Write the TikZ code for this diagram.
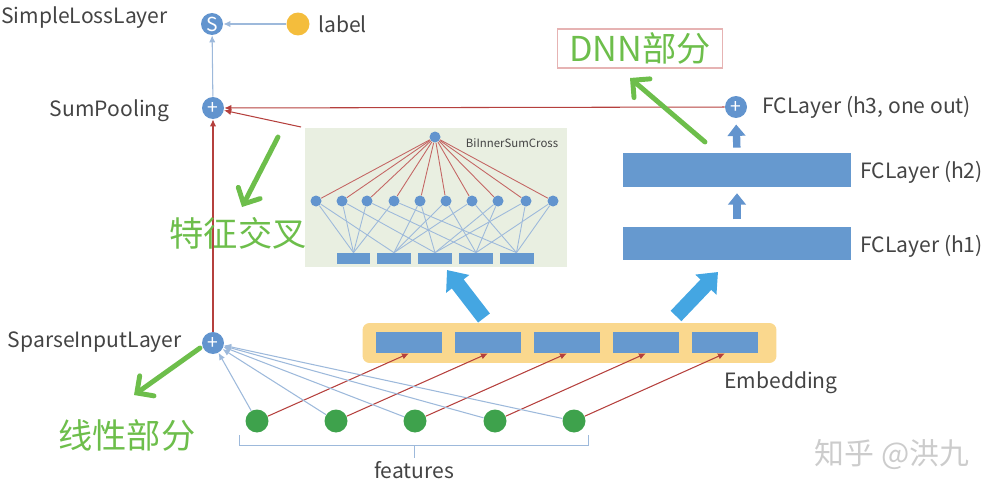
\documentclass[tikz,border=0pt]{standalone}
\usepackage{fontspec}
\setmainfont{Noto Sans CJK SC}
\usetikzlibrary{arrows.meta,calc}
\definecolor{nodeblue}{HTML}{6294CE}
\definecolor{rectblue}{HTML}{6699CF}
\definecolor{thinblue}{HTML}{9DB9DB}
\definecolor{redline}{HTML}{B5403D}
\definecolor{fgreen}{HTML}{3EA24C}
\definecolor{annot}{HTML}{6DBE4B}
\definecolor{ylw}{HTML}{F4BD3C}
\definecolor{embfill}{HTML}{FAD88E}
\definecolor{bigarrow}{HTML}{44A6E2}
\definecolor{bibg}{HTML}{E9EFE1}
\definecolor{txt}{HTML}{444444}
\definecolor{dnnframe}{HTML}{E6B3B3}
\begin{document}
\begin{tikzpicture}[x=0.02cm,y=-0.02cm,
  lbl/.style={font=\fontsize{12}{14}\selectfont, text=txt, inner sep=0},
  cjk/.style={font=\fontsize{19.5}{22}\selectfont, text=annot, inner sep=0},
  opnode/.style={circle, fill=nodeblue, minimum size=0.44cm, inner sep=0, text=white, font=\fontsize{11}{11}\selectfont},
  smallop/.style={circle, fill=nodeblue, minimum size=0.22cm, inner sep=0},
  birect/.style={fill=rectblue, minimum width=0.68cm, minimum height=0.22cm, inner sep=0},
  embrect/.style={fill=rectblue, minimum width=1.32cm, minimum height=0.42cm, inner sep=0},
  fcrect/.style={fill=rectblue, minimum width=4.56cm, minimum height=0.67cm, inner sep=0},
  feat/.style={circle, fill=fgreen, minimum size=0.46cm, inner sep=0},
  redarrow/.style={draw=redline, line width=0.6pt, -{Latex[length=4pt,width=3.6pt]}},
  bluearrow/.style={draw=thinblue, line width=0.6pt, -{Latex[length=4pt,width=3.6pt]}},
  thinline/.style={draw=thinblue, line width=0.5pt},
  thinred/.style={draw=redline!80, line width=0.5pt},
  thickarrow/.style={draw=nodeblue, line width=4.2pt, -{Triangle[length=6.5pt,width=10pt]}},
  bigblue/.style={draw=bigarrow, line width=8.5pt, -{Triangle[length=10pt,width=16pt]}},
  annarrow/.style={draw=annot, line width=2.8pt, line cap=round, -{Straight Barb[length=7pt,width=14pt,line cap=round]}}
]
\useasboundingbox (0,0) rectangle (998,490);

% ---------------- top part ----------------
\node[opnode] (S) at (212,24) {S};
\node[circle, fill=ylw, minimum size=0.46cm, inner sep=0] (lab) at (298,24) {};
\node[lbl, anchor=base west] (labtxt) at (318,32) {label};
\node[lbl, anchor=base east] (slt) at (168,24) {SimpleLossLayer};

\node[opnode] (sum) at (213,108) {+};
\node[lbl, anchor=base east] (sumtxt) at (170,116) {SumPooling};

\node[opnode] (sparse) at (213,343) {+};
\node[lbl, anchor=base east] (sparsetxt) at (182,347) {SparseInputLayer};

% ---------------- BiInnerSumCross ----------------
\node[fill=bibg, inner sep=0, minimum width=5.24cm, minimum height=2.78cm, anchor=north west] (bi) at (305,128) {};
\node[font=\fontsize{6.5}{8}\selectfont, text=txt, inner sep=0] (bititle) at (512,143) {BiInnerSumCross};
\node[smallop] (top) at (435,137) {};
\foreach \i/\x in {1/316,2/342,3/367,4/394,5/420,6/446,7/472,8/498,9/526,10/553}
  \node[smallop] (c\i) at (\x,201) {};
\foreach \j/\x in {1/353.5,2/394,3/435,4/476,5/516.5}
  \node[birect] (r\j) at (\x,258.5) {};
\foreach \i/\a/\b in {1/1/2,2/1/3,3/1/4,4/1/5,5/2/3,6/2/4,7/2/5,8/3/4,9/3/5,10/4/5}{
  \draw[thinline] (c\i) -- (r\a.north);
  \draw[thinline] (c\i) -- (r\b.north);
  \draw[thinred] (top) -- (c\i);
}

% ---------------- DNN part ----------------
\node[opnode] (h3) at (736,107) {+};
\node[lbl, anchor=base west] (h3txt) at (762,113) {FCLayer (h3, one out)};
\node[fcrect] (h2) at (737,170) {};
\node[lbl, anchor=base west] (h2txt) at (860,178) {FCLayer (h2)};
\node[fcrect] (h1) at (737,243.5) {};
\node[lbl, anchor=base west] (h1txt) at (860,252) {FCLayer (h1)};
\draw[thickarrow, shorten <=4pt, shorten >=3.5pt] (h1.north) -- (h2.south);
\draw[thickarrow, shorten <=3pt, shorten >=3.5pt] (h2.north) -- (h3.south);

\node[draw=dnnframe, line width=0.6pt, minimum width=3.3cm, minimum height=0.78cm, cjk, inner sep=0] (dnn) at (640,48.5) {DNN部分};

% ---------------- Embedding ----------------
\node[fill=embfill, rounded corners=4pt, minimum width=8.28cm, minimum height=0.8cm, inner sep=0] (emb) at (569.5,343) {};
\foreach \i/\x in {1/409,2/488,3/567,4/646,5/725}
  \node[embrect] (e\i) at (\x,342.5) {};
\node[lbl, anchor=base west] (embtxt) at (724,388) {Embedding};

% ---------------- features ----------------
\foreach \i/\x in {1/257,2/336,3/415,4/495,5/574}
  \node[feat] (f\i) at (\x,421) {};
\foreach \i in {1,...,5}{
  \draw[bluearrow] (f\i) -- (sparse);
  \draw[redarrow] (f\i) -- (e\i.south);
}
\coordinate (brl) at (239,435);
\coordinate (brr) at (588,435);
\coordinate (brm) at (414,458);
\draw[thinline] (brl) -- ++(0,10) -- ($(brr)+(0,10)$) -- (brr);
\draw[thinline] ($(brm)+(0,-13)$) -- (brm);
\node[lbl, anchor=base] (feattxt) at (414,478) {features};

% ---------------- main connectors ----------------
\draw[bluearrow] (lab) -- (S);
\draw[bluearrow] (sum) -- (S);
\draw[redarrow] (sparse) -- (sum);
\draw[redarrow] (h3) -- (sum);
\coordinate (bicorner) at (301,127);
\draw[redarrow] (bicorner) -- (sum);

% ---------------- big blue arrows ----------------
\coordinate (ba1s) at (484,318);
\coordinate (ba1e) at (447,270);
\coordinate (ba2s) at (676,316);
\coordinate (ba2e) at (718,272);
\draw[bigblue] (ba1s) -- (ba1e);
\draw[bigblue] (ba2s) -- (ba2e);

% ---------------- annotations ----------------
\node[cjk] (lin) at (127,435) {线性部分};
\node[cjk] (cross) at (238,233) {特征交叉};
\coordinate (a1s) at (200,348);
\coordinate (a1e) at (134,395);
\coordinate (a2s) at (278,137);
\coordinate (a2e) at (242,207);
\coordinate (a3s) at (705,142);
\coordinate (a3e) at (630,78);
\draw[annarrow] (a1s) -- (a1e);
\draw[annarrow] (a2s) -- (a2e);
\draw[annarrow] (a3s) -- (a3e);

\node[font=\fontsize{17}{19}\selectfont, text=black!20, inner sep=0] (wm) at (892,455) {知乎 @洪九};
\end{tikzpicture}
\end{document}
